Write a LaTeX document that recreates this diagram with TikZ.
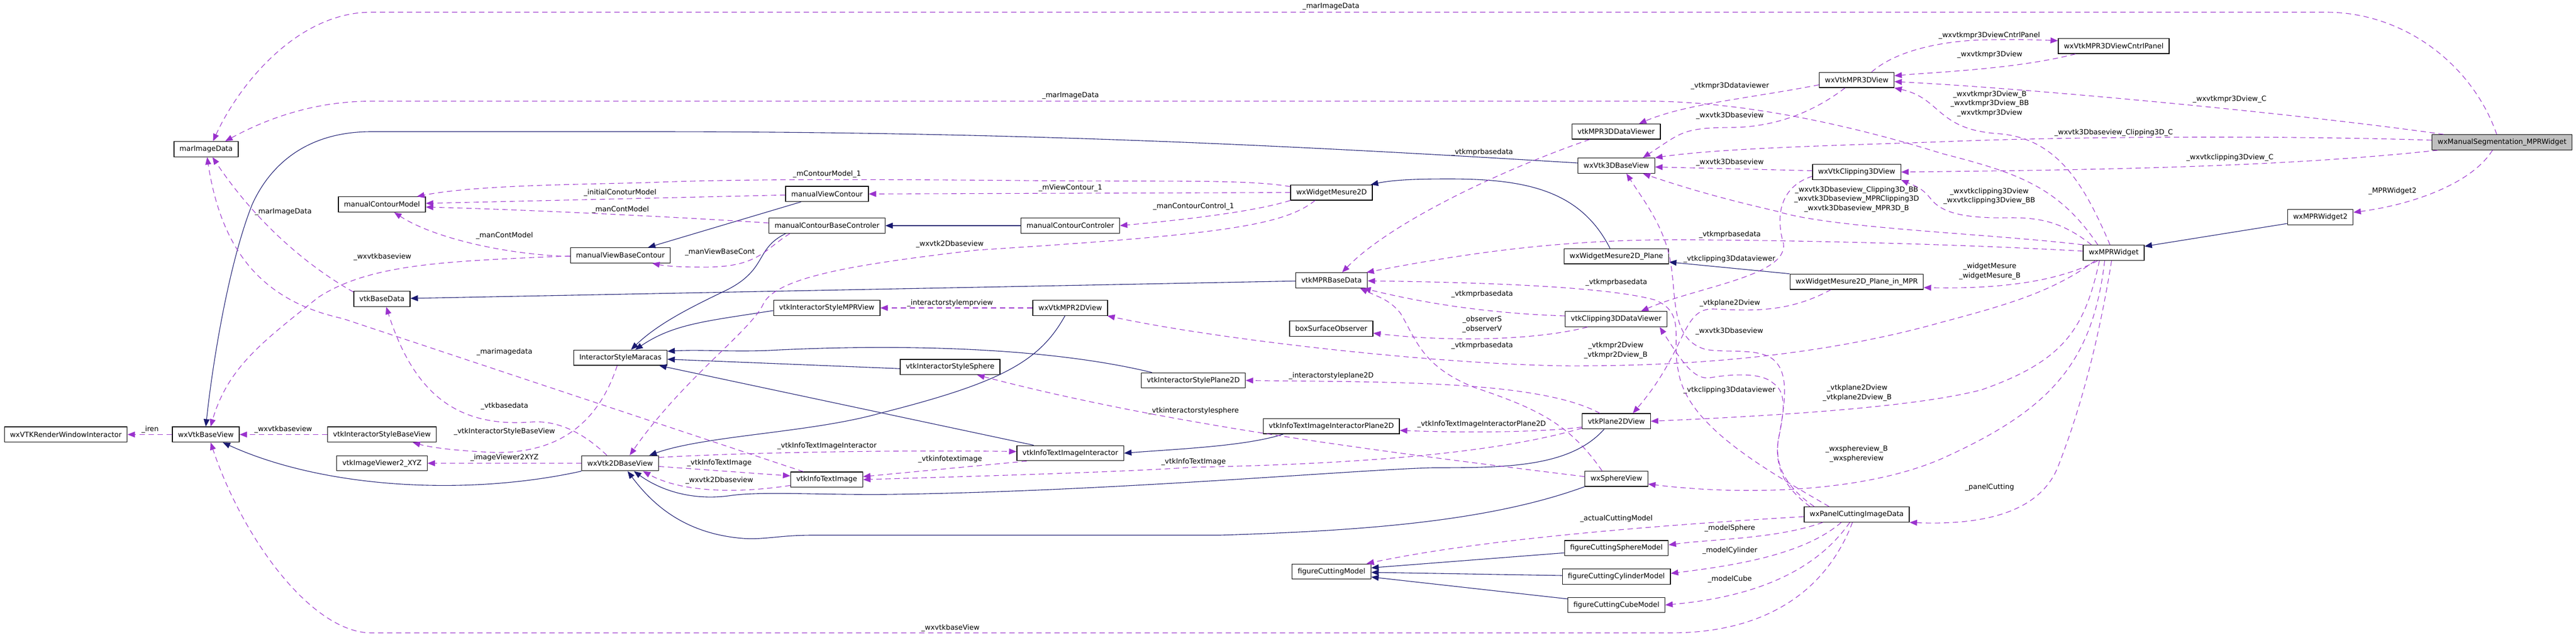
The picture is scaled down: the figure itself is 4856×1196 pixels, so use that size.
\documentclass[tikz,border=0pt]{standalone}
\usepackage{fontspec}
\setmainfont{DejaVu Sans}
\usepackage{xcolor}
\usetikzlibrary{arrows.meta}

\definecolor{useline}{HTML}{9A32CD}
\definecolor{baseline}{HTML}{191970}
\tikzset{
	classbox/.style={draw, line width=1.3pt, minimum height=28.6pt, inner xsep=10.5pt, inner ysep=0pt, font=\fontsize{13.33}{17.3}\selectfont},
	rootbox/.style={classbox, fill=black!25},
	edgelabel/.style={inner sep=0pt, align=center, font=\fontsize{13.33}{17.3}\selectfont},
	uses/.style={draw=useline, line width=1.1pt, dash pattern=on 10pt off 7pt, -{Triangle[length=14pt, width=11pt]}},
	inherits/.style={draw=baseline, line width=1.1pt, -{Triangle[length=14pt, width=11pt]}}
}

\begin{document}
\begin{tikzpicture}[x=1pt, y=-1pt]
	\useasboundingbox (0,0) rectangle (4856,1196);

	\node[rootbox]	(wxManualSegmentationMPRWidget) at (4716.5,268) {wxManualSegmentation\_MPRWidget};
	\node[classbox]	(marImageData) at (388.5,281) {marImageData};
	\node[classbox]	(manualContourModel) at (720,385) {manualContourModel};
	\node[classbox]	(manualViewBaseContour) at (1169.5,481) {manualViewBaseContour};
	\node[classbox]	(vtkBaseData) at (720,563) {vtkBaseData};
	\node[classbox]	(wxVTKRenderWindowInteractor) at (124,818.4) {wxVTKRenderWindowInteractor};
	\node[classbox]	(wxVtkBaseView) at (388,818.4) {wxVtkBaseView};
	\node[classbox]	(vtkInteractorStyleBaseView) at (720,818.4) {vtkInteractorStyleBaseView};
	\node[classbox]	(vtkImageViewer2XYZ) at (720,872.5) {vtkImageViewer2\_XYZ};
	\node[classbox]	(wxVtk2DBaseView) at (1169,872.5) {wxVtk2DBaseView};
	\node[classbox]	(InteractorStyleMaracas) at (1169.5,673.6) {InteractorStyleMaracas};
	\node[classbox]	(manualViewContour) at (1559,365.3) {manualViewContour};
	\node[classbox]	(manualContourBaseControler) at (1559,425) {manualContourBaseControler};
	\node[classbox]	(manualContourControler) at (2017.5,425) {manualContourControler};
	\node[classbox]	(vtkInteractorStyleMPRView) at (1558.5,580) {vtkInteractorStyleMPRView};
	\node[classbox]	(wxVtkMPR2DView) at (2017.5,580) {wxVtkMPR2DView};
	\node[classbox]	(vtkInteractorStyleSphere) at (1791,691.3) {vtkInteractorStyleSphere};
	\node[classbox]	(vtkInteractorStylePlane2D) at (2249.5,716.5) {vtkInteractorStylePlane2D};
	\node[classbox]	(vtkInfoTextImageInteractor) at (2017.6,853.5) {vtkInfoTextImageInteractor};
	\node[classbox]	(vtkInfoTextImage) at (1558.4,903.3) {vtkInfoTextImage};
	\node[classbox]	(vtkInfoTextImageInteractorPlane2D) at (2509.7,802.6) {vtkInfoTextImageInteractorPlane2D};
	\node[classbox]	(wxVtkMPR3DView) at (3500,150.7) {wxVtkMPR3DView};
	\node[classbox]	(wxVtkMPR3DViewCntrlPanel) at (3984.5,86.7) {wxVtkMPR3DViewCntrlPanel};
	\node[classbox]	(vtkMPR3DDataViewer) at (3046.6,247.8) {vtkMPR3DDataViewer};
	\node[classbox]	(wxVtk3DBaseView) at (3047,312) {wxVtk3DBaseView};
	\node[classbox]	(wxVtkClipping3DView) at (3500,324) {wxVtkClipping3DView};
	\node[classbox]	(wxWidgetMesure2D) at (2510,362.6) {wxWidgetMesure2D};
	\node[classbox]	(wxWidgetMesure2DPlane) at (3047,482.6) {wxWidgetMesure2D\_Plane};
	\node[classbox]	(wxWidgetMesure2DPlaneInMPR) at (3500,530.6) {wxWidgetMesure2D\_Plane\_in\_MPR};
	\node[classbox]	(vtkMPRBaseData) at (2510,528) {vtkMPRBaseData};
	\node[classbox]	(vtkClipping3DDataViewer) at (3046.6,601) {vtkClipping3DDataViewer};
	\node[classbox]	(boxSurfaceObserver) at (2509.5,619) {boxSurfaceObserver};
	\node[classbox]	(vtkPlane2DView) at (3047,793.4) {vtkPlane2DView};
	\node[classbox]	(wxSphereView) at (3047,901.7) {wxSphereView};
	\node[classbox]	(wxPanelCuttingImageData) at (3500,969) {wxPanelCuttingImageData};
	\node[classbox]	(figureCuttingSphereModel) at (3047,1032.3) {figureCuttingSphereModel};
	\node[classbox]	(figureCuttingCylinderModel) at (3047,1086) {figureCuttingCylinderModel};
	\node[classbox]	(figureCuttingCubeModel) at (3047,1139.5) {figureCuttingCubeModel};
	\node[classbox]	(figureCuttingModel) at (2510,1076.5) {figureCuttingModel};
	\node[classbox]	(wxMPRWidget2) at (4374,409) {wxMPRWidget2};
	\node[classbox]	(wxMPRWidget) at (3984.5,476) {wxMPRWidget};

	\node[edgelabel]	(lblMarTop) at (2509,12) {\_marImageData};
	\node[edgelabel]	(lblMarMid) at (2018,180.6) {\_marImageData};
	\node[edgelabel]	(lblMarBase) at (534,399) {\_marImageData};
	\node[edgelabel]	(lblManContA) at (951,444) {\_manContModel};
	\node[edgelabel]	(lblInitial) at (1169,363) {\_initialConoturModel};
	\node[edgelabel]	(lblManContB) at (1169.5,395) {\_manContModel};
	\node[edgelabel]	(lblBaseViewA) at (721,484.5) {\_wxvtkbaseview};
	\node[edgelabel]	(lblMarSmall) at (951,663) {\_marimagedata};
	\node[edgelabel]	(lblBaseData) at (951,764.6) {\_vtkbasedata};
	\node[edgelabel]	(lblStyleBase) at (951,813) {\_vtkInteractorStyleBaseView};
	\node[edgelabel]	(lblViewer) at (951,862) {\_imageViewer2XYZ};
	\node[edgelabel]	(lblIren) at (283,809) {\_iren};
	\node[edgelabel]	(lblBaseViewB) at (534,809) {\_wxvtkbaseview};
	\node[edgelabel]	(lblContourModel) at (1559,328.4) {\_mContourModel\_1};
	\node[edgelabel]	(lblViewContour) at (2018,354.4) {\_mViewContour\_1};
	\node[edgelabel]	(lblControl) at (2250,389) {\_manContourControl\_1};
	\node[edgelabel]	(lblViewBaseCont) at (1357,474.6) {\_manViewBaseCont};
	\node[edgelabel]	(lblTwoDA) at (1790.5,459.6) {\_wxvtk2Dbaseview};
	\node[edgelabel]	(lblStyleMpr) at (1791,570.6) {\_interactorstylemprview};
	\node[edgelabel]	(lblStyleSphere) at (2250,773.7) {\_vtkinteractorstylesphere};
	\node[edgelabel]	(lblInfoInter) at (1559,840) {\_vtkInfoTextImageInteractor};
	\node[edgelabel]	(lblInfoA) at (1356,872) {\_vtkInfoTextImage};
	\node[edgelabel]	(lblTwoDB) at (1356,904.6) {\_wxvtk2Dbaseview};
	\node[edgelabel]	(lblInfoLow) at (1791,865) {\_vtkinfotextimage};
	\node[edgelabel]	(lblInfoB) at (2250,870) {\_vtkInfoTextImage};
	\node[edgelabel]	(lblBaseViewC) at (1791.6,1182.5) {\_wxvtkbaseView};
	\node[edgelabel]	(lblStylePlane) at (2509.5,708.3) {\_interactorstyleplane2D};
	\node[edgelabel]	(lblInfoPlane) at (2793,799.4) {\_vtkInfoTextImageInteractorPlane2D};
	\node[edgelabel]	(lblObserver) at (2794,611) {\_observerS\\\_observerV};
	\node[edgelabel]	(lblMprDataA) at (2794,651) {\_vtkmprbasedata};
	\node[edgelabel]	(lblMprTwoD) at (3046,660) {\_vtkmpr2Dview\\\_vtkmpr2Dview\_B};
	\node[edgelabel]	(lblThreeDA) at (3260,624) {\_wxvtk3Dbaseview};
	\node[edgelabel]	(lblClipA) at (3260,735) {\_vtkclipping3Ddataviewer};
	\node[edgelabel]	(lblPlaneB) at (3501,740) {\_vtkplane2Dview\\\_vtkplane2Dview\_B};
	\node[edgelabel]	(lblSphere) at (3500,855) {\_wxsphereview\_B\\\_wxsphereview};
	\node[edgelabel]	(lblActual) at (3047,977) {\_actualCuttingModel};
	\node[edgelabel]	(lblModelSphere) at (3261,995) {\_modelSphere};
	\node[edgelabel]	(lblModelCylinder) at (3261,1037.4) {\_modelCylinder};
	\node[edgelabel]	(lblModelCube) at (3261,1090.6) {\_modelCube};
	\node[edgelabel]	(lblMprThreeD) at (3261,162.3) {\_vtkmpr3Ddataviewer};
	\node[edgelabel]	(lblThreeDB) at (3261,218.5) {\_wxvtk3Dbaseview};
	\node[edgelabel]	(lblThreeDC) at (3261,306.5) {\_wxvtk3Dbaseview};
	\node[edgelabel]	(lblMprDataB) at (2794,287.4) {\_vtkmprbasedata};
	\node[edgelabel]	(lblThreeDLong) at (3500,375.4) {\_wxvtk3Dbaseview\_Clipping3D\_BB\\\_wxvtk3Dbaseview\_MPRClipping3D\\\_wxvtk3Dbaseview\_MPR3D\_B};
	\node[edgelabel]	(lblMprDataC) at (3261,442.4) {\_vtkmprbasedata};
	\node[edgelabel]	(lblClipB) at (3260,488.3) {\_vtkclipping3Ddataviewer};
	\node[edgelabel]	(lblMprDataD) at (3047,531.6) {\_vtkmprbasedata};
	\node[edgelabel]	(lblMprDataE) at (2794,554.5) {\_vtkmprbasedata};
	\node[edgelabel]	(lblPlaneA) at (3261,570.6) {\_vtkplane2Dview};
	\node[edgelabel]	(lblCntrlPanel) at (3750,66.6) {\_wxvtkmpr3DviewCntrlPanel};
	\node[edgelabel]	(lblMprView) at (3751,102.6) {\_wxvtkmpr3Dview};
	\node[edgelabel]	(lblMprViewLong) at (3751,195.4) {\_wxvtkmpr3Dview\_B\\\_wxvtkmpr3Dview\_BB\\\_wxvtkmpr3Dview};
	\node[edgelabel]	(lblMprViewC) at (4203,187.5) {\_wxvtkmpr3Dview\_C};
	\node[edgelabel]	(lblClipC) at (3984.5,250.3) {\_wxvtk3Dbaseview\_Clipping3D\_C};
	\node[edgelabel]	(lblClipViewC) at (4203.5,296.6) {\_wxvtkclipping3Dview\_C};
	\node[edgelabel]	(lblClipView) at (3750,369.5) {\_wxvtkclipping3Dview\\\_wxvtkclipping3Dview\_BB};
	\node[edgelabel]	(lblWidgetTwo) at (4510,360.5) {\_MPRWidget2};
	\node[edgelabel]	(lblMesure) at (3751,511) {\_widgetMesure\\\_widgetMesure\_B};
	\node[edgelabel]	(lblPanel) at (3750.5,917.6) {\_panelCutting};

	% inheritance
	\draw[inherits] ([yshift=5pt]wxVtk3DBaseView.west) .. controls (2400,272) and (1900,248) .. (1220,248) -- (700,248) .. controls (560,248) and (500,330) .. (475,386) .. controls (430,500) and (400,690) .. (wxVtkBaseView.north);
	\draw[inherits] (wxVtk2DBaseView.south west) .. controls (880,935) and (610,920) .. ([xshift=32pt]wxVtkBaseView.south);
	\draw[inherits] ([xshift=-49pt]manualViewContour.south) -- ([xshift=52pt]manualViewBaseContour.north);
	\draw[inherits] (manualContourControler) -- (manualContourBaseControler);
	\draw[inherits] ([xshift=-78pt]manualContourBaseControler.south) .. controls (1420,470) and (1450,510) .. (1360,551) .. controls (1300,580) and (1240,610) .. ([xshift=20pt]InteractorStyleMaracas.north);
	\draw[inherits] ([yshift=-5pt]vtkInteractorStyleMPRView.west) .. controls (1330,605) and (1270,610) .. ([xshift=28pt]InteractorStyleMaracas.north);
	\draw[inherits] ([yshift=-3pt]vtkInteractorStyleSphere.west) -- ([yshift=-3pt]InteractorStyleMaracas.east);
	\draw[inherits] ([xshift=-78pt]vtkInteractorStylePlane2D.north) .. controls (1950,648) and (1640,650) .. (1450,660) .. controls (1380,663) and (1320,658) .. ([yshift=12pt]InteractorStyleMaracas.east);
	\draw[inherits] ([xshift=-69pt]vtkInfoTextImageInteractor.north) -- ([xshift=73pt]InteractorStyleMaracas.south);
	\draw[inherits] ([xshift=-90pt]vtkInfoTextImageInteractorPlane2D.south) .. controls (2350,840) and (2230,845) .. (vtkInfoTextImageInteractor.east);
	\draw[inherits] ([xshift=-10pt]wxVtkMPR2DView.south) .. controls (1960,680) and (1890,720) .. (1660,778) .. controls (1530,815) and (1330,820) .. ([xshift=55pt]wxVtk2DBaseView.north);
	\draw[inherits] ([xshift=-23pt]vtkPlane2DView.south) .. controls (2960,880) and (2840,881) .. (2700,881) .. controls (2550,885) and (2100,925) .. (1687,931) .. controls (1560,933) and (1440,925) .. (1380,933) .. controls (1300,945) and (1240,920) .. ([xshift=26pt]wxVtk2DBaseView.south);
	\draw[inherits] (wxSphereView.south west) .. controls (2800,985) and (2550,1000) .. (2300,1008) -- (1531,1008) .. controls (1470,1008) and (1440,1017) .. (1400,1014) .. controls (1290,1005) and (1230,950) .. ([xshift=14pt]wxVtk2DBaseView.south);
	\draw[inherits] ([yshift=-12pt]wxMPRWidget2.west) -- ([yshift=12pt]wxMPRWidget.east);
	\draw[inherits] ([xshift=-12pt]wxWidgetMesure2DPlane.north) .. controls (2980,360) and (2880,337) .. (2732,337) .. controls (2680,337) and (2630,338) .. ([xshift=74pt]wxWidgetMesure2D.north);
	\draw[inherits] (wxWidgetMesure2DPlaneInMPR.north west) -- ([yshift=-11pt]wxWidgetMesure2DPlane.east);
	\draw[inherits] (vtkMPRBaseData) -- (vtkBaseData);
	\draw[inherits] ([yshift=-9pt]figureCuttingSphereModel.west) -- ([yshift=7pt]figureCuttingModel.east);
	\draw[inherits] ([yshift=2pt]figureCuttingCylinderModel.west) -- ([yshift=-1.5pt]figureCuttingModel.east);
	\draw[inherits] ([yshift=11.5pt]figureCuttingCubeModel.west) -- ([yshift=-10.3pt]figureCuttingModel.east);

	% usage from the root class
	\draw[uses] ([xshift=-10pt]wxManualSegmentationMPRWidget.north) .. controls (4660,120) and (4530,23) .. (4385,23) -- (700,23) .. controls (560,23) and (450,160) .. ([xshift=13pt]marImageData.north);
	\draw[uses] ([xshift=-110pt]wxManualSegmentationMPRWidget.north) .. controls (4300,210) and (3800,165) .. ([yshift=-3pt]wxVtkMPR3DView.east);
	\draw[uses] ([yshift=4pt]wxManualSegmentationMPRWidget.west) .. controls (4300,255) and (3900,257) .. (3660,267) .. controls (3500,273) and (3250,278) .. (wxVtk3DBaseView.north east);
	\draw[uses] ([xshift=-121pt]wxManualSegmentationMPRWidget.south) .. controls (4300,315) and (3950,320) .. (wxVtkClipping3DView.east);
	\draw[uses] ([xshift=-18pt]wxManualSegmentationMPRWidget.south) .. controls (4660,345) and (4550,385) .. ([yshift=9pt]wxMPRWidget2.east);

	% usage from wxMPRWidget
	\draw[uses] ([xshift=-7pt]wxMPRWidget.north) .. controls (3930,350) and (3880,262) .. (3770,252) .. controls (3650,245) and (3660,185) .. (wxVtkMPR3DView.south east);
	\draw[uses] ([xshift=-30pt]wxMPRWidget.north) .. controls (3880,350) and (3800,325) .. (3660,289) .. controls (3520,245) and (3300,190) .. (3100,190.6) -- (700,190.6) .. controls (590,190.6) and (500,225) .. ([xshift=36pt]marImageData.north);
	\draw[uses] ([xshift=-42pt]wxMPRWidget.north) .. controls (3890,420) and (3850,410) .. (3790,410) .. controls (3700,412) and (3660,400) .. (3640,375) .. controls (3625,355) and (3610,350) .. (wxVtkClipping3DView.south east);
	\draw[uses] (wxMPRWidget.north west) .. controls (3750,440) and (3450,430) .. (3350,398) .. controls (3250,375) and (3180,355) .. ([xshift=50pt]wxVtk3DBaseView.south);
	\draw[uses] ([yshift=3pt]wxMPRWidget.west) .. controls (3700,460) and (3400,453) .. (3218,452) .. controls (2980,448) and (2800,470) .. ([xshift=66pt]vtkMPRBaseData.north);
	\draw[uses] ([xshift=-30pt]wxMPRWidget.south) .. controls (3890,525) and (3790,545) .. ([yshift=-11pt]wxWidgetMesure2DPlaneInMPR.east);
	\draw[uses] ([xshift=-35pt]wxMPRWidget.south) .. controls (3870,550) and (3780,575) .. (3660,607) .. controls (3400,680) and (3130,690) .. (2946,689) .. controls (2700,685) and (2300,640) .. ([xshift=70pt]wxVtkMPR2DView.south);
	\draw[uses] ([xshift=-27pt]wxMPRWidget.south) .. controls (3930,620) and (3890,680) .. (3736,734) .. controls (3600,770) and (3300,785) .. (vtkPlane2DView.east);
	\draw[uses] ([xshift=-17pt]wxMPRWidget.south) .. controls (3945,680) and (3870,770) .. (3660,864) .. controls (3520,925) and (3300,935) .. ([yshift=-10pt]wxSphereView.east);
	\draw[uses] ([xshift=-4pt]wxMPRWidget.south) .. controls (3950,680) and (3910,800) .. (3881,875) .. controls (3850,960) and (3750,990) .. (wxPanelCuttingImageData.south east);

	% usage from the 3D views
	\draw[uses] ([xshift=-72pt]wxVtkMPR3DViewCntrlPanel.south) .. controls (3800,130) and (3660,135) .. ([yshift=8pt]wxVtkMPR3DView.east);
	\draw[uses] ([xshift=28pt]wxVtkMPR3DView.north) .. controls (3580,90) and (3680,75) .. (3751,75) .. controls (3800,74) and (3840,75) .. ([yshift=10pt]wxVtkMPR3DViewCntrlPanel.west);
	\draw[uses] ([yshift=-9pt]wxVtkMPR3DView.west) .. controls (3300,185) and (3180,195) .. ([xshift=43pt]vtkMPR3DDataViewer.north);
	\draw[uses] ([xshift=-22pt]wxVtkMPR3DView.south) .. controls (3420,210) and (3350,238) .. (3270,240) .. controls (3170,240) and (3170,250) .. ([xshift=50pt]wxVtk3DBaseView.north);
	\draw[uses] ([xshift=-50pt]vtkMPR3DDataViewer.south) .. controls (2830,320) and (2620,420) .. ([xshift=20pt]vtkMPRBaseData.north);
	\draw[uses] ([yshift=2.5pt]wxVtkClipping3DView.west) -- ([yshift=-2.5pt]wxVtk3DBaseView.east);
	\draw[uses] ([yshift=-8pt]wxVtkClipping3DView.west) .. controls (3360,350) and (3345,400) .. (3362,459) .. controls (3370,520) and (3200,540) .. ([xshift=47pt]vtkClipping3DDataViewer.north);
	\draw[uses] ([yshift=6pt]vtkClipping3DDataViewer.west) .. controls (2800,590) and (2680,570) .. ([xshift=60pt]vtkMPRBaseData.south);
	\draw[uses] ([xshift=-54pt]vtkClipping3DDataViewer.south) .. controls (2900,640) and (2740,645) .. ([yshift=-8.5pt]boxSurfaceObserver.east);

	% usage from the 2D views
	\draw[uses] ([xshift=-27pt]wxSphereView.north) .. controls (2960,800) and (2900,770) .. (2780,730) .. controls (2680,690) and (2670,640) .. (2640,590) .. controls (2620,565) and (2600,560) .. ([xshift=54pt]vtkMPRBaseData.south);
	\draw[uses] ([xshift=-31pt]vtkPlane2DView.north) .. controls (2900,715) and (2600,720) .. (vtkInteractorStylePlane2D.east);
	\draw[uses] ([yshift=-11pt]vtkPlane2DView.west) .. controls (2900,815) and (2750,815) .. ([yshift=-8pt]vtkInfoTextImageInteractorPlane2D.east);
	\draw[uses] ([yshift=-13pt]vtkPlane2DView.west) .. controls (2800,860) and (2500,875) .. (2250,880) .. controls (2100,890) and (1800,898) .. (vtkInfoTextImage.east);
	\draw[uses] ([yshift=4pt]wxSphereView.west) .. controls (2600,850) and (2200,800) .. ([xshift=51pt]vtkInteractorStyleSphere.south);
	\draw[uses] ([xshift=-48.5pt]wxWidgetMesure2DPlaneInMPR.south) .. controls (3370,590) and (3300,585) .. (3230,582) .. controls (3170,580) and (3180,660) .. ([xshift=31pt]vtkPlane2DView.north);

	% usage from wxPanelCuttingImageData
	\draw[uses] ([xshift=-52pt]wxPanelCuttingImageData.north) .. controls (3320,880) and (3180,800) .. (3164,700) .. controls (3150,640) and (3180,590) .. (3120,565) .. controls (3030,540) and (2800,532) .. ([yshift=-1pt]vtkMPRBaseData.east);
	\draw[uses] ([xshift=-80pt]wxPanelCuttingImageData.north) .. controls (3370,920) and (3345,880) .. (3352,830) .. controls (3365,760) and (3375,700) .. (3340,675) .. controls (3310,655) and (3250,665) .. (3215,658) .. controls (3150,640) and (3160,560) .. (3150,500) .. controls (3140,430) and (3100,380) .. ([xshift=19pt]wxVtk3DBaseView.south);
	\draw[uses] ([xshift=-88pt]wxPanelCuttingImageData.north) .. controls (3365,920) and (3345,880) .. (3352,830) .. controls (3362,780) and (3370,740) .. (3343,722) .. controls (3320,700) and (3260,705) .. (3220,712) .. controls (3190,712) and (3170,680) .. ([xshift=82pt]vtkClipping3DDataViewer.south);
	\draw[uses] ([yshift=-4pt]wxPanelCuttingImageData.west) .. controls (3200,985) and (2820,1010) .. ([xshift=66pt]figureCuttingModel.north);
	\draw[uses] ([xshift=-64pt]wxPanelCuttingImageData.south) .. controls (3350,1015) and (3230,1015) .. ([yshift=6pt]figureCuttingSphereModel.east);
	\draw[uses] ([xshift=-29pt]wxPanelCuttingImageData.south) .. controls (3400,1045) and (3270,1065) .. ([yshift=6pt]figureCuttingCylinderModel.east);
	\draw[uses] ([xshift=-13pt]wxPanelCuttingImageData.south) .. controls (3420,1080) and (3300,1125) .. (figureCuttingCubeModel.east);
	\draw[uses] ([xshift=-8pt]wxPanelCuttingImageData.south) .. controls (3440,1120) and (3320,1192) .. (3150,1192) -- (700,1192) .. controls (590,1192) and (460,1020) .. ([xshift=9pt]wxVtkBaseView.south);

	% usage on the contour side
	\draw[uses] (wxVtkMPR2DView) -- (vtkInteractorStyleMPRView);
	\draw[uses] ([yshift=11pt]wxWidgetMesure2D.west) .. controls (2360,338) and (2200,342) .. (1998,340.6) .. controls (1700,338) and (1400,336) .. (1220,344) .. controls (1050,348) and (890,350) .. ([xshift=66pt]manualContourModel.north);
	\draw[uses] (wxWidgetMesure2D.west) -- (manualViewContour.east);
	\draw[uses] (wxWidgetMesure2D.south west) .. controls (2360,400) and (2220,415) .. (manualContourControler.east);
	\draw[uses] ([xshift=-31pt]wxWidgetMesure2D.south) .. controls (2420,425) and (2300,442) .. (1842,471) .. controls (1620,497) and (1470,520) .. (1440,570) .. controls (1420,620) and (1290,710) .. ([xshift=18pt]wxVtk2DBaseView.north);
	\draw[uses] ([yshift=-2pt]manualViewContour.west) -- ([yshift=2pt]manualContourModel.east);
	\draw[uses] ([yshift=5pt]manualContourBaseControler.west) .. controls (1300,410) and (1000,395) .. ([yshift=-5pt]manualContourModel.east);
	\draw[uses] ([xshift=-70pt]manualContourBaseControler.south) .. controls (1440,470) and (1430,505) .. (1321,503) .. controls (1290,503) and (1260,502) .. ([xshift=60pt]manualViewBaseContour.south);
	\draw[uses] ([yshift=-2pt]manualViewBaseContour.west) .. controls (960,480) and (820,450) .. ([xshift=23pt]manualContourModel.south);
	\draw[uses] ([yshift=-1pt]manualViewBaseContour.west) .. controls (850,492) and (700,495) .. (600,560) .. controls (500,640) and (430,690) .. ([xshift=9pt]wxVtkBaseView.north);
	\draw[uses] ([yshift=13pt]vtkBaseData.west) .. controls (560,490) and (470,400) .. ([xshift=12pt]marImageData.south);
	\draw[uses] ([xshift=-6pt]InteractorStyleMaracas.south) .. controls (1130,790) and (1060,855) .. (930,852) .. controls (880,850) and (820,845) .. ([xshift=58pt]vtkInteractorStyleBaseView.south);

	% usage around wxVtk2DBaseView
	\draw[uses] ([xshift=-25pt]wxVtk2DBaseView.north) .. controls (1110,825) and (1060,790) .. (1000,795) .. controls (860,805) and (780,740) .. ([xshift=8pt]vtkBaseData.south);
	\draw[uses] ([xshift=-44pt]vtkInfoTextImage.north) -- (646,600) .. controls (510,570) and (420,490) .. ([xshift=2pt]marImageData.south);
	\draw[uses] ([yshift=11pt]wxVtk2DBaseView.east) .. controls (1450,850) and (1750,848) .. ([yshift=3pt]vtkInfoTextImageInteractor.west);
	\draw[uses] ([xshift=-82pt]vtkInfoTextImageInteractor.south) -- ([yshift=5.6pt]vtkInfoTextImage.east);
	\draw[uses] ([yshift=-6pt]wxVtk2DBaseView.east) -- ([yshift=7pt]vtkInfoTextImage.west);
	\draw[uses] ([yshift=-11pt]vtkInfoTextImage.west) .. controls (1400,928) and (1290,930) .. ([xshift=43pt]wxVtk2DBaseView.south);
	\draw[uses] (wxVtk2DBaseView) -- (vtkImageViewer2XYZ);
	\draw[uses] (wxVtkBaseView) -- (wxVTKRenderWindowInteractor);
	\draw[uses] (vtkInteractorStyleBaseView) -- (wxVtkBaseView);
\end{tikzpicture}
\end{document}
